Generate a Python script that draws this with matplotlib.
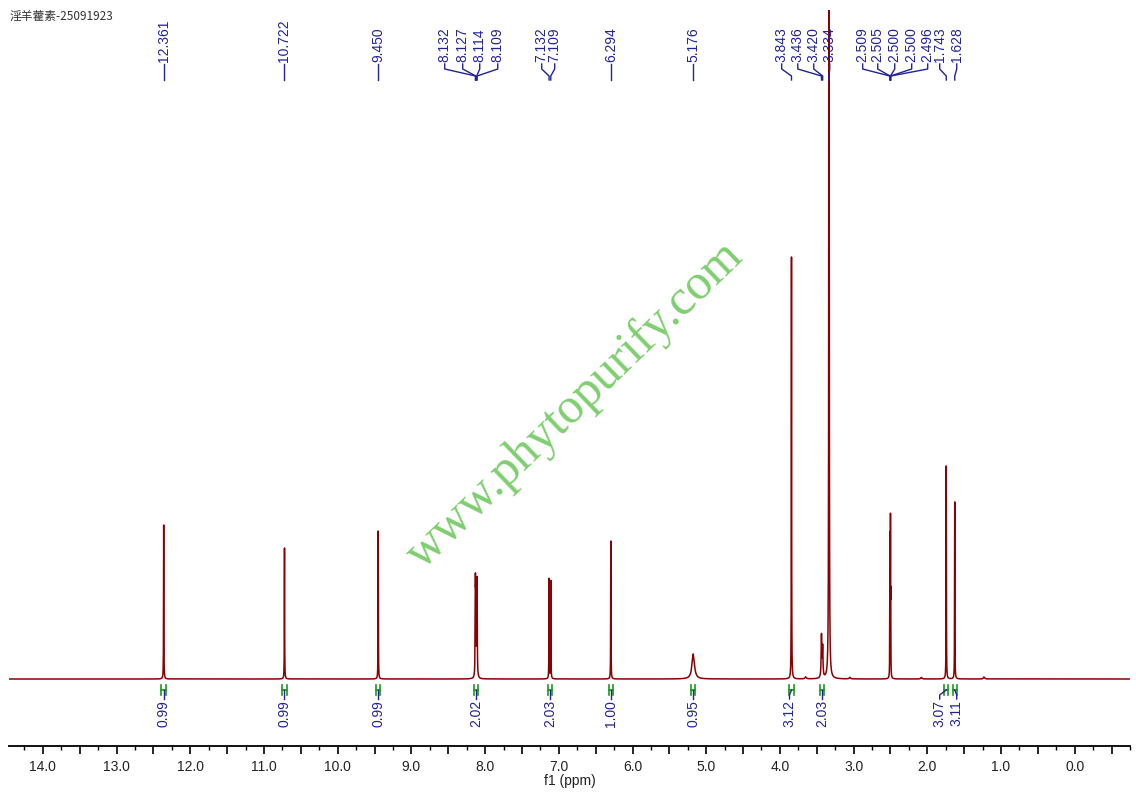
import matplotlib
matplotlib.use("Agg")
import matplotlib.pyplot as plt
from matplotlib.ticker import MultipleLocator, FuncFormatter
import numpy as np

# peak list: shift (ppm), height (arb.), line width (ppm)
peak_ppm = [12.361, 10.722, 9.450,
            8.132, 8.127, 8.114, 8.109,
            7.132, 7.109, 6.294, 5.176,
            3.843, 3.436, 3.420, 3.334,
            2.509, 2.505, 2.500, 2.496,
            1.743, 1.628,
            3.65, 3.05, 2.08, 1.23]
peak_height = [154, 131, 148,
               85, 65, 62, 82,
               100, 98, 138, 25,
               422, 42, 30, 1500,
               70, 125, 145, 70,
               213, 177,
               2, 1.5, 1.5, 2]
peak_width = [0.004, 0.004, 0.004,
              0.006, 0.006, 0.006, 0.006,
              0.004, 0.004, 0.004, 0.04,
              0.004, 0.01, 0.01, 0.005,
              0.003, 0.003, 0.003, 0.003,
              0.004, 0.004,
              0.02, 0.02, 0.02, 0.02]

# labelled peaks on top, with the spread positions of the labels
label_ppm = [12.361, 10.722, 9.450, 8.132, 8.127, 8.114, 8.109,
             7.132, 7.109, 6.294, 5.176, 3.843, 3.436, 3.420, 3.334,
             2.509, 2.505, 2.500, 2.500, 2.496, 1.743, 1.628]
label_text = ['12.361', '10.722', '9.450', '8.132', '8.127', '8.114', '8.109',
              '7.132', '7.109', '6.294', '5.176', '3.843', '3.436', '3.420', '3.334',
              '2.509', '2.505', '2.500', '2.500', '2.496', '1.743', '1.628']
label_pos = [12.361, 10.722, 9.450, 8.548, 8.304, 8.073, 7.829,
             7.232, 7.056, 6.294, 5.176, 3.976, 3.758, 3.541, 3.324,
             2.877, 2.673, 2.442, 2.212, 1.995, 1.832, 1.601]

# integrals: region centre, value, label position
integral_ppm = [12.361, 10.722, 9.450, 8.120, 7.120, 6.294, 5.176,
                3.843, 3.428, 1.743, 1.628]
integral_val = ['0.99', '0.99', '0.99', '2.02', '2.03', '1.00', '0.95',
                '3.12', '2.03', '3.07', '3.11']
integral_pos = [12.361, 10.722, 9.450, 8.120, 7.120, 6.294, 5.176,
                3.870, 3.428, 1.832, 1.601]

spec_color = '#8b0000'
label_color = '#22229a'
int_color = '#1a9a1a'
FONT = 'Liberation Sans'

x = np.linspace(-0.75, 14.46, 300000)
y = np.zeros_like(x)
for p, h, w in zip(peak_ppm, peak_height, peak_width):
    y += h / (1 + ((x - p) / (w / 2)) ** 2)

fig = plt.figure(figsize=(11.36, 8), dpi=100)
ax = fig.add_axes([9 / 1136, 54 / 800, 1121 / 1136, 736 / 800])
ax.plot(x, y, color=spec_color, lw=1.1)
ax.set_xlim(14.46, -0.75)
ax.set_ylim(-67, 669)

for s in ['top', 'left', 'right']:
    ax.spines[s].set_visible(False)
ax.spines['bottom'].set_linewidth(1.4)
ax.spines['bottom'].set_color('#111111')
ax.set_yticks([])
ax.xaxis.set_major_locator(MultipleLocator(0.5))
ax.xaxis.set_minor_locator(MultipleLocator(0.25))
ax.xaxis.set_major_formatter(FuncFormatter(
    lambda v, pos: f'{v:.1f}' if abs(v - round(v)) < 1e-6 else ''))
ax.tick_params(axis='x', which='major', length=6, width=1.2, pad=4,
               labelsize=10, labelcolor='#222222')
ax.tick_params(axis='x', which='minor', length=3, width=1.0)
for t in ax.get_xticklabels():
    t.set_fontfamily(FONT)
ax.set_xlabel('f1 (ppm)', fontsize=10, family=FONT, labelpad=0, color='#222222')

# peak labels
for p, txt, lp in zip(label_ppm, label_text, label_pos):
    ax.text(lp, 617, txt, rotation=90, ha='center', va='bottom',
            fontsize=10, family=FONT, color=label_color, clip_on=False)
    ax.plot([lp, lp, p, p], [615, 610, 603, 599], color=label_color,
            lw=1.0, clip_on=False)

# integrals
for p, val, lp in zip(integral_ppm, integral_val, integral_pos):
    lo, hi = p - 0.03, p + 0.03
    ax.plot([lo, lo], [-6, -16], color=int_color, lw=1.2)
    ax.plot([hi, hi], [-6, -16], color=int_color, lw=1.2)
    ax.plot([lo, hi], [-11, -11], color=int_color, lw=1.2)
    ax.plot([p, lp, lp], [-11, -16, -20], color=label_color, lw=1.0)
    ax.text(lp, -21, val, rotation=90, ha='center', va='top',
            fontsize=10, family=FONT, color=label_color)

fig.text(0.5, 0.5, 'www.phytopurify.com', rotation=44, fontsize=36,
         family='Liberation Serif', color='#7fcf6f',
         ha='center', va='center', transform=fig.transFigure,
         position=(575 / 1136, 1 - 405 / 800))

fig.text(10 / 1136, 1 - 16 / 800, '淫羊藿素-25091923', fontsize=8.5,
         family=['Noto Sans CJK SC', 'DejaVu Sans'], color='#333333',
         ha='left', va='center')

fig.savefig('out.png', dpi=100)
